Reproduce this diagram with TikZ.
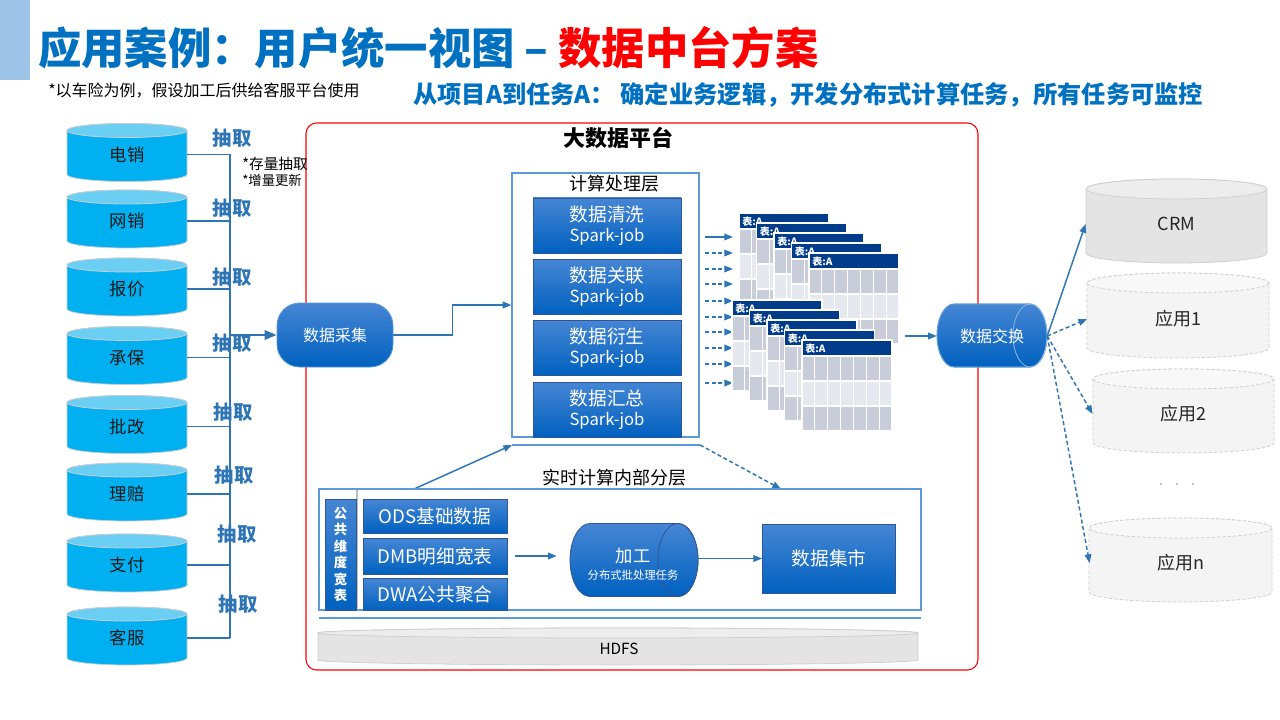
\documentclass[tikz,border=0pt]{standalone}
\usepackage{fontspec}
\setmainfont{Noto Sans CJK SC}
\usetikzlibrary{arrows.meta}

\definecolor{titleblue}{HTML}{0070C0}
\definecolor{barblue}{HTML}{9DC3E6}
\definecolor{linkblue}{HTML}{2E75B6}
\definecolor{diskcyan}{HTML}{00B0F0}
\definecolor{disktop}{HTML}{6BCFF4}
\definecolor{diskedge}{HTML}{C9CDD2}
\definecolor{boxtop}{HTML}{4686D4}
\definecolor{boxbot}{HTML}{0061BF}
\definecolor{boxedge}{HTML}{2F5597}
\definecolor{headblue}{HTML}{003C8A}
\definecolor{rowdark}{HTML}{C9CDD9}
\definecolor{rowlight}{HTML}{E6E8EF}
\definecolor{layerblue}{HTML}{5B9BD5}
\definecolor{graydisk}{HTML}{E4E4E4}
\definecolor{graytop}{HTML}{EDEDED}
\definecolor{grayedge}{HTML}{CFCFCF}
\definecolor{paledisk}{HTML}{F4F4F4}

\tikzset{
  link/.style={draw=linkblue, line width=1.1pt},
  flow/.style={draw=linkblue, line width=1.1pt, -{Triangle[length=6.5pt,width=5pt]}},
  bigflow/.style={draw=linkblue, line width=1.8pt, -{Triangle[length=9pt,width=7pt]}},
  dashdash/.style={dash pattern=on 3pt off 2pt},
  srcdisk/.style={inner sep=0, minimum width=90pt, minimum height=43.5pt, font=\fontsize{13}{13}\selectfont, text=black!90},
  cyanbody/.style={fill=diskcyan, draw=diskedge, line width=0.6pt},
  cyantop/.style={fill=disktop, draw=diskedge, line width=0.6pt},
  crmbody/.style={fill=graydisk, draw=grayedge, line width=0.6pt},
  crmtop/.style={fill=graytop, draw=grayedge, line width=0.6pt},
  appbody/.style={fill=paledisk, draw=grayedge, line width=0.6pt, dash pattern=on 2.5pt off 1.5pt},
  apptop/.style={fill=paledisk!60!white, draw=grayedge, line width=0.6pt, dash pattern=on 2.5pt off 1.5pt},
  hdfsbody/.style={fill=graydisk, draw=grayedge, line width=0.6pt},
  hdfstop/.style={fill=graytop, draw=grayedge, line width=0.6pt},
  appdisk/.style={inner sep=0, minimum width=136pt, minimum height=63pt, font=\fontsize{13.5}{13.5}\selectfont, text=black!85},
  pull/.style={inner sep=0, font=\fontsize{14.5}{14.5}\selectfont\bfseries, text=linkblue},
  bluebox/.style={draw=boxedge, line width=0.6pt, top color=boxtop, bottom color=boxbot, text=white, inner sep=0, align=center},
  cylbody/.style={draw=boxedge, line width=0.6pt, top color=boxtop, bottom color=boxbot},
  cylend/.style={draw=boxedge, line width=0.6pt},
  xchbody/.style={draw=layerblue, line width=0.8pt, top color=boxtop, bottom color=boxbot},
  xchend/.style={draw=layerblue!70!white, line width=0.6pt},
  layer/.style={draw=layerblue, line width=0.9pt, inner sep=0},
  tabhead/.style={inner sep=0, font=\fontsize{7.5}{7.5}\selectfont\bfseries, text=white},
}

% vertical disk: body style, top style, cx, cy, half width, half height, ry
\newcommand{\vdisk}[7]{%
  \path[#1] (#3-#5,#4-#6) -- (#3-#5,#4+#6) arc[start angle=180,end angle=0,x radius=#5,y radius=#7] -- (#3+#5,#4-#6) arc[start angle=0,end angle=-180,x radius=#5,y radius=#7] -- cycle;
  \path[#2] (#3,#4-#6) ellipse[x radius=#5,y radius=#7];
}
% lying disk: body style, end style, cx, cy, half width, half height, rx
\newcommand{\hdisk}[7]{%
  \path[#1] (#3-#5+#7,#4-#6) -- (#3+#5-#7,#4-#6) arc[start angle=-90,end angle=90,x radius=#7,y radius=#6] -- (#3-#5+#7,#4+#6) arc[start angle=90,end angle=270,x radius=#7,y radius=#6] -- cycle;
  \path[#2] (#3+#5-#7,#4) ellipse[x radius=#7,y radius=#6];
}
% result table: name, x, y
\newcommand{\datatable}[3]{%
  \fill[headblue] (#2,#3) rectangle ++(90,16);
  \fill[rowdark] (#2,#3+16) rectangle ++(90,25);
  \fill[rowlight] (#2,#3+41) rectangle ++(90,25);
  \fill[rowdark] (#2,#3+66) rectangle ++(90,25);
  \foreach \c in {1,...,6} \draw[white, line width=0.8pt] (#2+\c*12.857,#3+16) -- ++(0,75);
  \foreach \r in {16,41,66} \draw[white, line width=0.8pt] (#2,#3+\r) -- ++(90,0);
  \draw[white, line width=0.8pt] (#2,#3) rectangle ++(90,91);
  \node[tabhead, anchor=west] (#1) at (#2+3,#3+9) {表:A};
}

\begin{document}
\begin{tikzpicture}[x=0.75pt,y=0.75pt,yscale=-1]
\useasboundingbox (0,0) rectangle (1280,720);

%Shape: Title Bar
\fill[barblue] (0,0) rectangle (30,80);
% Text Node
\node[anchor=west, inner sep=0] (title) at (38,48) {\fontsize{32.5}{32.5}\selectfont\bfseries\color{titleblue}应用案例：用户统一视图 – \color{red}数据中台方案};
\node[anchor=west, inner sep=0] (note) at (48,91) {\fontsize{12}{12}\selectfont *以车险为例，假设加工后供给客服平台使用};
\node[anchor=west, inner sep=0] (goal) at (413,95) {\fontsize{18.2}{18.2}\selectfont\bfseries\color{titleblue}从项目A到任务A： 确定业务逻辑，开发分布式计算任务，所有任务可监控};

%Shape: Platform Frame
\node[draw=red, line width=0.8pt, rounded corners=8pt, inner sep=0, minimum width=504pt, minimum height=410.25pt] (platform) at (642,396.5) {};
\node (platname) at (618,138) {\fontsize{16.5}{16.5}\selectfont\bfseries 大数据平台};

%Shape: Source Disks
\coordinate (bus) at (230,153);
\foreach \nm/\txt/\cy in {tel/电销/152.5, net/网销/219, quote/报价/287, accept/承保/355.5, endorse/批改/424.5, claim/理赔/492, pay/支付/563, service/客服/636}{
  \vdisk{cyanbody}{cyantop}{127}{\cy}{60}{22}{7}
  \node[srcdisk] (\nm) at (127,\cy+2) {\txt};
  \draw[link] (\nm.east) -- (\nm.east -| bus);
}
\draw[link] (tel.east -| bus) -- (service.east -| bus);
\foreach \k/\px/\py in {1/232/138, 2/232/208, 3/232/277, 4/232/343, 5/233/412, 6/234/475, 7/237/534, 8/238/604}
  \node[pull] (pull\k) at (\px,\py) {抽取};
\node[anchor=west, inner sep=0, align=left] (mode) at (242,172) {\fontsize{11}{16.5}\selectfont *存量抽取\\*增量更新};

%Shape: Collect
\node[bluebox, draw=layerblue, rounded corners=17pt, minimum width=87pt, minimum height=48pt, font=\fontsize{12}{12}\selectfont] (collect) at (335,335) {数据采集};
\draw[bigflow] (bus |- collect.west) -- (collect.west);

%Shape: Compute Layer
\node[layer, minimum width=140.25pt, minimum height=198pt] (calc) at (605.5,305) {};
\node (calcname) at (614,184) {\fontsize{13.5}{13.5}\selectfont 计算处理层};
\draw[flow] (collect.east) -- ++(59,0) |- (calc.west);
\foreach \nm/\txt/\cy in {clean/数据清洗/225.5, join/数据关联/286.5, derive/数据衍生/347.5, summary/数据汇总/409.5}
  \node[bluebox, minimum width=111pt, minimum height=41.25pt, font=\fontsize{14}{15}\selectfont] (\nm) at (607,\cy) {\txt\\{\fontsize{12.5}{14}\selectfont Spark-job}};

% feedback between layers
\coordinate (feedL) at (512,445);
\coordinate (feedR) at (700,445);
\coordinate (rtout) at (414,489);
\coordinate (rtin) at (781,489);
\draw[link, line width=0.9pt, draw=layerblue] (feedL) -- (feedR);
\draw[flow] (rtout) -- (feedL);
\draw[flow, dashdash] (feedR) -- (rtin);

%Shape: Result Tables
\foreach \y [count=\k] in {237,253,269,284,301,317,332,348,364,383}{
  \coordinate (tout\k) at (705,\y);
  \coordinate (tin\k) at (733,\y);
}
\draw[flow] (tout1) -- (tin1);
\foreach \k in {2,...,10} \draw[flow, dashdash] (tout\k) -- (tin\k);
\foreach \k in {0,...,4} \datatable{ta\k}{739+17.5*\k}{213+10*\k};
\foreach \k in {0,...,4} \datatable{tb\k}{732+17.5*\k}{300+10*\k};

%Shape: Exchange
\hdisk{xchbody}{xchend}{992}{335.5}{55}{31.5}{17}
\node[inner sep=0, minimum width=82.5pt, minimum height=47.25pt, text=white, font=\fontsize{12}{12}\selectfont] (exch) at (992,336) {数据交换};
\coordinate (tabout) at (905,336);
\draw[flow] (tabout) -- (exch.west);

%Shape: Target Disks
\vdisk{crmbody}{crmtop}{1176.5}{221}{90.5}{32}{10}
\vdisk{appbody}{apptop}{1178}{315.5}{91}{32.5}{10}
\vdisk{appbody}{apptop}{1183.5}{411}{90.5}{32}{10}
\vdisk{appbody}{apptop}{1180.5}{560}{91.5}{32}{10}
\node[appdisk] (crm) at (1176.5,224) {CRM};
\node[appdisk] (app1) at (1178,319) {应用1};
\node[appdisk] (app2) at (1183.5,414) {应用2};
\node[appdisk] (appn) at (1180.5,563) {应用n};
\node[inner sep=0, text=black!45, font=\fontsize{6}{6}\selectfont] (more) at (1177,486) {·\hspace{6pt}·\hspace{6pt}·};
\draw[flow] (exch.east) -- (crm.west);
\foreach \t in {app1,app2,appn} \draw[flow, dashdash] (exch.east) -- (\t.west);

%Shape: Realtime Layer
\node[layer, minimum width=451.5pt, minimum height=90.75pt] (rt) at (620,549.5) {};
\node (rtname) at (614,478) {\fontsize{13.5}{13.5}\selectfont 实时计算内部分层};
\draw[gray!50, line width=0.8pt] (357,490) -- (357,610);
\node[bluebox, minimum width=23.25pt, minimum height=83.25pt, font=\fontsize{10}{12.3}\selectfont\bfseries] (dim) at (340.5,554.5) {公\\共\\维\\度\\宽\\表};
\node[bluebox, minimum width=108pt, minimum height=25.5pt, font=\fontsize{14}{14}\selectfont] (ods) at (435,516) {ODS基础数据};
\node[bluebox, minimum width=108pt, minimum height=27pt, font=\fontsize{14}{14}\selectfont] (dmb) at (435,556) {DMB明细宽表};
\node[bluebox, minimum width=108pt, minimum height=24pt, font=\fontsize{14}{14}\selectfont] (dwa) at (435,594) {DWA公共聚合};
\hdisk{cylbody}{cylend}{634}{560}{64}{36.5}{20}
\node[inner sep=0, minimum width=96pt, minimum height=54.75pt, text=white, align=center, font=\fontsize{13}{14}\selectfont] (proc) at (633,564) {加工\\[-1pt]{\fontsize{8.5}{9}\selectfont 分布式批处理任务}};
\node[bluebox, minimum width=99.75pt, minimum height=51.75pt, font=\fontsize{14}{14}\selectfont] (mart) at (829,558.5) {数据集市};
\draw[flow, shorten <=6pt, shorten >=9pt] (dmb.east) -- (proc.west |- dmb.east);
\draw[flow] (proc.east |- mart.west) -- (mart.west);
\draw[layerblue, line width=0.9pt] (319,618) -- (921,618);

%Shape: HDFS
\vdisk{hdfsbody}{hdfstop}{618}{646.5}{300}{13.5}{5}
\node[inner sep=0, font=\fontsize{11.5}{11.5}\selectfont] (hdfs) at (619,649) {HDFS};

\end{tikzpicture}
\end{document}
